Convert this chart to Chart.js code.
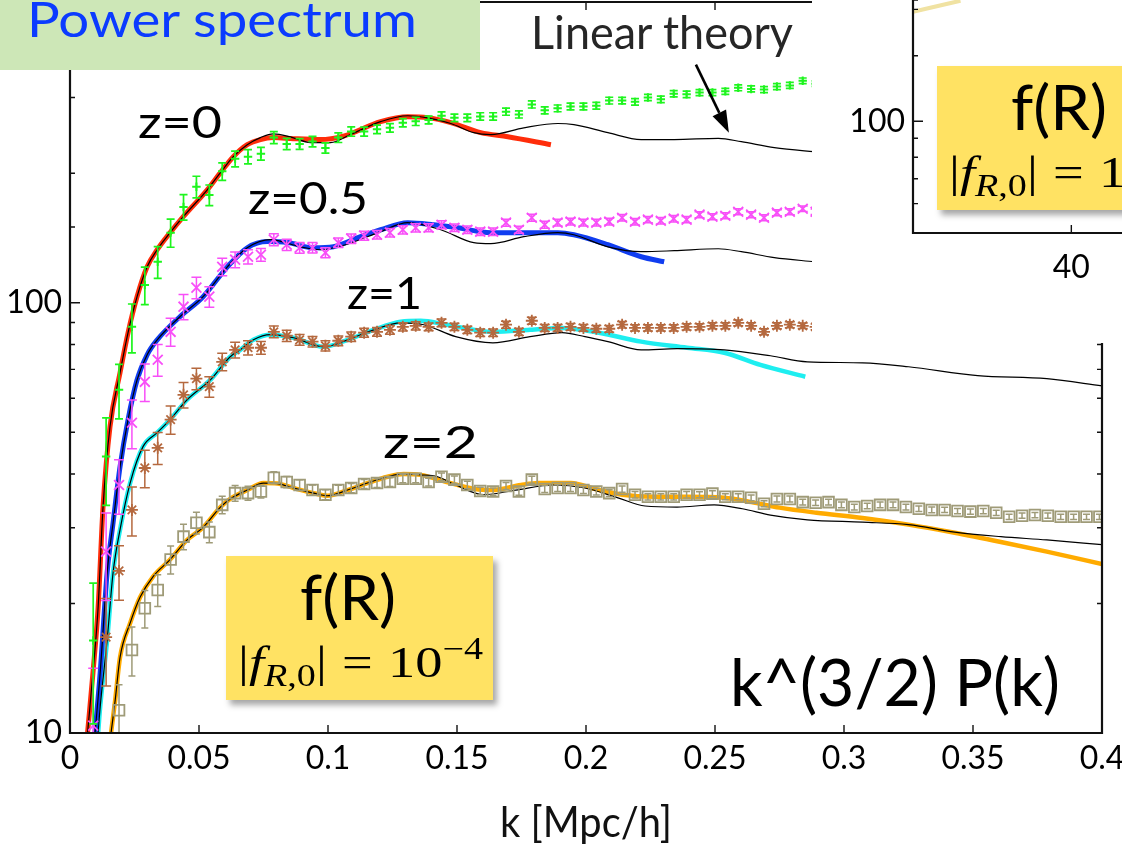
<!DOCTYPE html>
<html>
<head>
<meta charset="utf-8">
<title>Power spectrum</title>
<script src="https://cdn.jsdelivr.net/npm/chart.js@4/dist/chart.umd.min.js"></script>
<style>
  html, body { margin:0; padding:0; background:#fff; overflow:hidden; }
  #stage { position:relative; width:1122px; height:847px; overflow:hidden; font-family:Lato, "Open Sans", sans-serif; }
  #main { position:absolute; left:0; top:0; }
  .txt { position:absolute; white-space:nowrap; line-height:1; transform-origin:0 0; color:#000; }
  #titleBox { position:absolute; left:0; top:0; width:480px; height:70px; background:#cde7b7; }
  .fbox { position:absolute; width:267px; height:144px; background:#ffe263; box-shadow:4px 5px 6px rgba(0,0,0,0.35); }
  .math { font-family:"Liberation Serif", "DejaVu Serif", serif; font-size:44px; }
  .math sub, .math sup { font-size:0.7em; line-height:0; }
  .math sub { vertical-align:-0.3em; }
  .math sup { vertical-align:0.58em; }
  .math .rel { margin:0 0.28em; }
  #inset { position:absolute; left:812px; top:0; width:310px; height:343px; background:#fff; overflow:hidden; }
  #insetChart { position:absolute; left:0; top:0; }
</style>
</head>
<body>
<div id="stage">
  <canvas id="main" width="1122" height="847"></canvas>

  <div id="titleBox"><div class="txt" style="left:27px;top:-4.6px;font-size:48px;color:#0b3bff" data-w="390">Power spectrum</div></div>

  <div class="txt" style="left:138px;top:99px;font-size:44px" data-w="84">z=0</div>
  <div class="txt" style="left:248px;top:175px;font-size:44px" data-w="120">z=0.5</div>
  <div class="txt" style="left:347px;top:270px;font-size:44px" data-w="75">z=1</div>
  <div class="txt" style="left:383px;top:419px;font-size:44px" data-w="95">z=2</div>

  <div class="txt" style="left:531px;top:9px;font-size:46px;color:#262626" data-w="262">Linear theory</div>
  <div class="txt" style="left:730px;top:648px;font-size:66px" data-w="330">k^(3/2) P(k)</div>
  <div class="txt" style="left:500px;top:800px;font-size:42px;color:#111" data-w="172">k [Mpc/h]</div>

  <div class="fbox" style="left:226px;top:556px">
    <div class="txt" style="left:74px;top:9px;font-size:62px" data-w="96">f(R)</div>
    <div class="txt math" style="left:12px;top:85px" data-w="245">|<i>f</i><sub><i>R</i>,0</sub>|<span class="rel">=</span>10<sup>−4</sup></div>
  </div>

  <div id="inset">
    <canvas id="insetChart" width="310" height="343"></canvas>
    <div class="fbox" style="left:125px;top:66px">
      <div class="txt" style="left:74px;top:9px;font-size:62px" data-w="96">f(R)</div>
      <div class="txt math" style="left:12px;top:85px" data-w="245">|<i>f</i><sub><i>R</i>,0</sub>|<span class="rel">=</span>10<sup>−4</sup></div>
    </div>
  </div>
</div>

<script>
// ---- axis ticks -------------------------------------------------------
const xTickLabels = ['0', '0.05', '0.1', '0.15', '0.2', '0.25', '0.3', '0.35', '0.4'];
const yLabelValues = [10, 100];

// ---- k bins of the N-body measurements [h/Mpc] -----------------------
const kBins = [
  0.009, 0.014, 0.019, 0.024, 0.029, 0.034, 0.039, 0.044, 0.049, 0.054,
  0.059, 0.064, 0.069, 0.074, 0.079, 0.084, 0.089, 0.094, 0.099, 0.104,
  0.109, 0.114, 0.119, 0.124, 0.129, 0.134, 0.139, 0.144, 0.149, 0.154,
  0.159, 0.164, 0.169, 0.174, 0.179, 0.184, 0.189, 0.194, 0.199, 0.204,
  0.209, 0.214, 0.219, 0.224, 0.229, 0.234, 0.239, 0.244, 0.249, 0.254,
  0.259, 0.264, 0.269, 0.274, 0.279, 0.284, 0.289, 0.294, 0.299, 0.304,
  0.309, 0.314, 0.319, 0.324, 0.329, 0.334, 0.339, 0.344, 0.349, 0.354,
  0.359, 0.364, 0.369, 0.374, 0.379, 0.384, 0.389, 0.394, 0.399
];

// fractional error of each bin (same mode count at every redshift)
const relErr = [
  0.36, 0.23, 0.145, 0.13, 0.10, 0.085, 0.075, 0.068, 0.058, 0.055,
  0.047, 0.042, 0.038, 0.034, 0.032, 0.030, 0.029, 0.028, 0.027, 0.026,
  0.025, 0.024, 0.023, 0.023, 0.022, 0.022, 0.021, 0.021, 0.020, 0.020,
  0.020, 0.020, 0.019, 0.019, 0.019, 0.019, 0.018, 0.018, 0.018, 0.018,
  0.018, 0.017, 0.017, 0.017, 0.017, 0.017, 0.017, 0.016, 0.016, 0.016,
  0.016, 0.016, 0.016, 0.016, 0.016, 0.015, 0.015, 0.015, 0.015, 0.015,
  0.015, 0.015, 0.015, 0.015, 0.015, 0.015, 0.014, 0.014, 0.014, 0.014,
  0.014, 0.014, 0.014, 0.014, 0.014, 0.014, 0.014, 0.014, 0.014
];

// N-body k^(3/2) P(k), one value per bin
const nbodyZ0 = [
  16.4, 43.9, 62.8, 87.9, 110, 124.5, 145.5, 167, 186, 178,
  202, 216, 218.5, 222, 242, 234, 234, 237, 229, 242,
  250, 250, 253, 255, 262, 264, 266, 272, 269, 269,
  271, 271, 278, 274, 289, 280, 283, 286, 286, 287,
  295, 295, 293, 300, 297, 306, 305, 308, 308, 310,
  316, 314, 313, 318, 320, 328, 323
];
const nbodyZ05 = [
  10.4, 26.4, 37.7, 52.6, 65.5, 73.7, 85.6, 97.9, 108.4, 103.3,
  121.2, 125.9, 127.9, 129.3, 140.2, 136.4, 134.2, 134.2, 130.7, 137.9,
  140.9, 143.2, 143.9, 145.5, 147.8, 149.4, 149.4, 151.8, 149.4, 147.8,
  146.3, 146.3, 153.5, 147.8, 157.6, 151.8, 153.5, 154.3, 153.5, 153.5,
  154.3, 157.6, 154.3, 156.0, 155.1, 156.8, 156.0, 160.2, 158.5, 159.3,
  162.7, 160.2, 157.6, 161.9, 162.7, 165.4, 162.7
];
const nbodyZ1 = [
  null, 16.7, 23.8, 33.0, 41.3, 46.0, 53.5, 61.1, 66.6, 63.8,
  72.9, 77.7, 78.6, 78.6, 85.6, 83.8, 82.0, 81.2, 79.4, 81.6,
  83.4, 85.2, 85.6, 86.5, 87.9, 88.4, 87.9, 89.8, 87.9, 86.5,
  85.2, 85.2, 88.9, 85.6, 90.8, 87.4, 87.4, 87.9, 87.4, 87.0,
  87.0, 88.9, 87.4, 87.4, 87.4, 87.4, 87.9, 87.9, 88.4, 88.4,
  89.8, 88.4, 85.6, 88.4, 88.9, 88.4, 87.9
];
const nbodyZ2 = [
  null, null, 11.3, 15.6, 19.5, 21.5, 25.3, 28.6, 30.8, 29.3,
  33.9, 36.1, 36.1, 36.4, 39.2, 38.3, 37.7, 36.7, 35.8, 36.7,
  37.1, 37.9, 38.1, 38.3, 39.0, 39.0, 38.3, 39.4, 38.8, 37.7,
  36.5, 36.4, 37.5, 36.4, 38.8, 36.9, 37.1, 37.1, 36.7, 36.4,
  36.1, 36.9, 35.8, 35.4, 35.4, 35.4, 35.8, 35.8, 36.0, 35.4,
  35.4, 35.2, 34.1, 35.0, 35.0, 34.4, 34.3, 34.4, 33.9, 33.5,
  33.7, 33.9, 33.9, 33.5, 33.2, 33.0, 33.0, 32.8, 32.7, 32.8,
  32.5, 31.8, 32.0, 32.1, 32.0, 31.8, 31.8, 31.8, 31.8
];

// linear theory curves
const kLinZ0 = [0.0068,0.0089,0.0109,0.0128,0.0155,0.0194,0.0225,0.026,0.0299,0.0338,0.0388,0.0439,0.0532,0.0583,0.0633,0.0687,0.0738,0.0788,0.0854,0.0932,0.101,0.1087,0.1204,0.1309,0.1386,0.1476,0.1565,0.1631,0.1759,0.1891,0.1953,0.2085,0.2214,0.2342,0.2513,0.2602,0.273,0.2882,0.292];
const linZ0  = [10,13.8,19.6,33.5,51.5,68.8,85.2,103.3,121.2,132.8,145.5,158.5,183,200.6,218.5,233,242,247,243,235.6,235.6,246,263.6,272,269,261,248.5,246,255,261,259.4,248.5,239.5,239.5,241,236.8,229.4,224.5,223.5];

const kLinZ05 = [0.0097,0.0117,0.0144,0.0167,0.0194,0.0225,0.026,0.0299,0.0338,0.0426,0.0516,0.061,0.0687,0.0777,0.0893,0.0971,0.1068,0.1204,0.1309,0.1437,0.1565,0.1631,0.1759,0.1891,0.1953,0.2085,0.2214,0.2342,0.2513,0.2602,0.273,0.2886,0.292];
const linZ05  = [10,13.8,23.6,30.8,41.6,53.5,66.2,75.7,82,92.8,103.3,121.2,134.2,140.2,134.9,132.8,136.4,146.3,153.5,147.8,137.9,137.2,142.4,145.5,143.9,134.9,131.4,132.1,133.5,131.4,127.3,124.5,123.9];

const kLinZ1 = [0.0109,0.0117,0.0144,0.0167,0.0194,0.0233,0.0283,0.0338,0.0388,0.0454,0.0544,0.0621,0.066,0.0711,0.0777,0.0866,0.0983,0.1076,0.1177,0.1282,0.1371,0.1495,0.1639,0.1783,0.1907,0.1996,0.2085,0.2214,0.2353,0.2536,0.2715,0.2858,0.3072,0.325,0.3518,0.3786,0.4];
const linZ1  = [10,11.5,16.45,23.6,29.7,38.1,46.3,49.9,53.5,59.5,66.2,74.9,77.7,82,84.3,82.9,79,82,86.5,89.8,88.9,83.4,80.7,83.4,85.2,83.4,81.2,77.7,78.2,77.7,75.3,72.9,72.5,71,67.7,66.6,64.1];

const kLinZ2 = [0.0159,0.0175,0.0194,0.0233,0.0272,0.0322,0.0388,0.0454,0.0517,0.0583,0.0621,0.0687,0.075,0.0804,0.0866,0.0944,0.0998,0.1076,0.1153,0.1231,0.1293,0.1359,0.1425,0.1495,0.1604,0.1728,0.1872,0.1996,0.2124,0.2229,0.2353,0.2497,0.2606,0.2715,0.2858,0.3072,0.325,0.3429,0.3608,0.3786,0.4];
const linZ2  = [10,11.9,15.0,18.0,20.7,23.1,25.3,28.1,30.1,33.5,35.0,36.7,38.1,38,37.1,36.1,35.6,36.7,38.1,39.4,40,39.8,39.4,37.7,35.8,36.7,37.7,37.1,35.2,33.7,33.5,33.9,33.2,32.1,31.3,30.9,30.5,29.3,28.6,28.1,27.4];

// f(R) model curves
const kModelZ0 = [0.0068,0.0089,0.0109,0.0128,0.0155,0.0194,0.0225,0.026,0.0299,0.0338,0.0388,0.0439,0.0532,0.0583,0.0633,0.0687,0.0738,0.0788,0.0866,0.097,0.106,0.1204,0.1309,0.1386,0.1476,0.1592,0.1697,0.1864];
const modelZ0  = [10,13.8,19.6,33.5,51.5,68.8,85.2,103.3,121.2,132.8,145.5,158.5,183,200.6,218.5,233,239.5,242,240.6,239.5,244,263.6,270.7,269.3,262.2,248.5,243.2,233];

const kModelZ05 = [0.0097,0.0117,0.0144,0.0167,0.0194,0.0225,0.026,0.0299,0.0338,0.0426,0.0516,0.061,0.0687,0.0765,0.0843,0.0944,0.1021,0.1126,0.1204,0.1309,0.141,0.1503,0.1631,0.1759,0.1891,0.1953,0.2085,0.2214,0.2303];
const modelZ05  = [10,13.8,23.6,30.8,41.6,53.5,66.2,75.7,82,92.8,103.3,121.2,134.2,138.7,138,134.2,135,142.4,147.8,153.5,151.8,149.4,145.5,145.5,145.5,143.9,136.4,127.9,124.5];

const kModelZ1 = [0.0109,0.0117,0.0144,0.0167,0.0194,0.0233,0.0283,0.0338,0.0388,0.0454,0.0544,0.0621,0.066,0.0711,0.0777,0.0866,0.0983,0.1076,0.1177,0.1282,0.1359,0.146,0.1639,0.1783,0.1907,0.205,0.2214,0.2392,0.2536,0.2676,0.285];
const modelZ1  = [10,11.5,16.45,23.6,29.7,38.1,46.3,49.9,53.5,59.5,66.2,74.9,77.7,82,84.3,82.9,79,82,86.5,90.3,90.8,88.9,85.6,86.5,87.4,85.2,81.2,78.6,76.5,71.7,67.3];

const kModelZ2 = [0.0159,0.0175,0.0194,0.0233,0.0272,0.0322,0.0388,0.0454,0.0517,0.0583,0.0621,0.0687,0.075,0.0804,0.0866,0.0944,0.0998,0.1076,0.1153,0.1231,0.1293,0.1359,0.146,0.1569,0.1639,0.1748,0.1817,0.1942,0.2035,0.214,0.2264,0.2392,0.2536,0.2641,0.275,0.2893,0.3072,0.325,0.3429,0.3608,0.3786,0.4];
const modelZ2  = [10,11.9,15.0,18.0,20.7,23.1,25.3,28.1,30.1,33.5,35.0,36.7,38.1,38,37.1,36.1,35.6,36.7,38.1,39.4,40,39.8,38.3,36.9,36.7,37.7,38.1,38.1,36.9,35.8,35.4,35.4,35.2,34.4,33.4,32.5,31.6,30.5,29.2,27.8,26.4,24.7];

// zoomed panel
const insetXTicks = [40];
const insetK = [30, 31.5, 33];
const insetCurve = [197, 204, 211];

// ---- helpers ----------------------------------------------------------
const table = (ks, vs) => ks.map((k, i) => ({ x: k, y: vs[i] }));
const binned = vs => kBins
  .map((k, i) => ({ x: k, y: vs[i], e: relErr[i] }))
  .filter(p => p.y !== null && p.y !== undefined);

const curve = (label, ks, vs, color, width, order) => ({
  label, data: table(ks, vs), borderColor: color, borderWidth: width,
  pointRadius: 0, fill: false, cubicInterpolationMode: 'monotone', order
});
const points = (label, vs, color, style, radius, width, cap) => ({
  label, data: binned(vs), showLine: false, pointStyle: style, pointRadius: radius,
  pointBorderColor: color, pointBackgroundColor: 'rgba(0,0,0,0)', pointBorderWidth: width,
  borderColor: color, errCap: cap, errWidth: Math.max(1.3, width - 0.3), order: 0
});

// fixed axis thickness, no extra room reserved for edge labels
const fixSize = (prop, size) => s => {
  s[prop] = size;
  s.paddingTop = 0; s.paddingBottom = 0; s.paddingLeft = 0; s.paddingRight = 0;
};

// vertical error bars with caps, drawn right after each point set
const errorBars = {
  id: 'errorBars',
  afterDatasetDraw(chart, args) {
    const ds = chart.data.datasets[args.index];
    if (!ds.errCap) return;
    const { ctx, chartArea: a, scales: { y } } = chart;
    ctx.save();
    ctx.beginPath();
    ctx.rect(a.left, a.top, a.right - a.left, a.bottom - a.top);
    ctx.clip();
    ctx.strokeStyle = ds.borderColor;
    ctx.lineWidth = ds.errWidth;
    ctx.beginPath();
    args.meta.data.forEach((pt, i) => {
      const d = ds.data[i];
      const y1 = y.getPixelForValue(d.y * (1 + d.e));
      const y2 = y.getPixelForValue(d.y * (1 - d.e));
      ctx.moveTo(pt.x, y1); ctx.lineTo(pt.x, y2);
      ctx.moveTo(pt.x - ds.errCap, y1); ctx.lineTo(pt.x + ds.errCap, y1);
      ctx.moveTo(pt.x - ds.errCap, y2); ctx.lineTo(pt.x + ds.errCap, y2);
    });
    ctx.stroke();
    ctx.restore();
  }
};

// boxed axes with inward tick marks
const axisFrame = {
  id: 'axisFrame',
  afterDraw(chart, args, o) {
    const { ctx, chartArea: a, scales: { x, y } } = chart;
    ctx.save();
    ctx.strokeStyle = '#111';
    ctx.lineWidth = 1.4;
    ctx.beginPath();
    x.ticks.forEach(t => {
      const px = x.getPixelForValue(t.value);
      if (o.bottom) { ctx.moveTo(px, a.bottom); ctx.lineTo(px, a.bottom - o.xTick); }
      if (o.top) { ctx.moveTo(px, a.top); ctx.lineTo(px, a.top + o.xTick); }
    });
    y.ticks.forEach(t => {
      const py = y.getPixelForValue(t.value);
      const len = t.label ? o.majorTick : o.minorTick;
      if (o.left) { ctx.moveTo(a.left, py); ctx.lineTo(a.left + len, py); }
      if (o.right) { ctx.moveTo(a.right, py); ctx.lineTo(a.right - len, py); }
    });
    ctx.stroke();
    ctx.lineWidth = 2.2;
    ctx.beginPath();
    if (o.left) { ctx.moveTo(a.left, a.top); ctx.lineTo(a.left, a.bottom + 1); }
    if (o.bottom) { ctx.moveTo(a.left - 1, a.bottom); ctx.lineTo(a.right + 1, a.bottom); }
    if (o.right) { ctx.moveTo(a.right, a.top); ctx.lineTo(a.right, a.bottom + 1); }
    if (o.top) { ctx.moveTo(a.left - 1, a.top); ctx.lineTo(a.right + 1, a.top); }
    ctx.stroke();

    if (o.arrow) {
      const [k1, v1] = o.arrow.from, [k2, v2] = o.arrow.to;
      const x1 = x.getPixelForValue(k1), y1 = y.getPixelForValue(v1);
      const x2 = x.getPixelForValue(k2), y2 = y.getPixelForValue(v2);
      const ang = Math.atan2(y2 - y1, x2 - x1), head = 22, half = 7.5;
      const bx = x2 - head * Math.cos(ang), by = y2 - head * Math.sin(ang);
      ctx.lineWidth = 2.6;
      ctx.strokeStyle = '#000';
      ctx.beginPath(); ctx.moveTo(x1, y1); ctx.lineTo(bx, by); ctx.stroke();
      ctx.fillStyle = '#000';
      ctx.beginPath();
      ctx.moveTo(x2, y2);
      ctx.lineTo(bx + half * Math.sin(ang), by - half * Math.cos(ang));
      ctx.lineTo(bx - half * Math.sin(ang), by + half * Math.cos(ang));
      ctx.closePath(); ctx.fill();
    }
    ctx.restore();
  }
};

Chart.defaults.font.family = 'Lato';
Chart.defaults.color = '#000';
const tickFont = { family: 'Lato', size: 32 };

// ---- main panel -------------------------------------------------------
new Chart(document.getElementById('main'), {
  type: 'line',
  data: {
    datasets: [
      points('N-body z=0', nbodyZ0, '#1ef51e', 'cross', 4.2, 2, 4),
      points('N-body z=0.5', nbodyZ05, '#f84ff8', 'crossRot', 7, 1.8, 5),
      points('N-body z=1', nbodyZ1, '#b5693f', 'star', 6, 1.8, 5),
      points('N-body z=2', nbodyZ2, '#9f9b78', 'rect', 7.6, 1.8, 3.5),
      curve('linear z=0', kLinZ0, linZ0, '#000', 1.2, 1),
      curve('linear z=0.5', kLinZ05, linZ05, '#000', 1.2, 1),
      curve('linear z=1', kLinZ1, linZ1, '#000', 1.2, 1),
      curve('linear z=2', kLinZ2, linZ2, '#000', 1.2, 1),
      curve('f(R) z=0', kModelZ0, modelZ0, '#ff2d0a', 5, 2),
      curve('f(R) z=0.5', kModelZ05, modelZ05, '#103df0', 5, 2),
      curve('f(R) z=1', kModelZ1, modelZ1, '#1eeef0', 4.5, 2),
      curve('f(R) z=2', kModelZ2, modelZ2, '#ffab00', 4.5, 2)
    ]
  },
  options: {
    responsive: false,
    animation: false,
    devicePixelRatio: 1,
    layout: { autoPadding: false, padding: { left: 0, top: 2, right: 20, bottom: 0 } },
    plugins: {
      legend: { display: false },
      tooltip: { enabled: false },
      axisFrame: {
        left: true, right: true, top: true, bottom: true,
        xTick: 8, majorTick: 10, minorTick: 5,
        arrow: { from: [0.2426, 357.7], to: [0.2554, 248.5] }
      }
    },
    scales: {
      x: {
        type: 'linear', min: 0, max: 0.4,
        grid: { display: false, drawTicks: false },
        border: { display: false },
        ticks: {
          stepSize: 0.05, autoSkip: false, maxRotation: 0, padding: 6,
          font: tickFont, color: '#000',
          callback: (v, i) => xTickLabels[i] ?? ''
        },
        afterFit: fixSize('height', 114)
      },
      y: {
        type: 'logarithmic', min: 10, max: 500,
        grid: { display: false, drawTicks: false },
        border: { display: false },
        ticks: {
          autoSkip: false, padding: 8, font: tickFont, color: '#000',
          callback: v => yLabelValues.includes(v) ? String(v) : ''
        },
        afterFit: fixSize('width', 70)
      }
    }
  },
  plugins: [errorBars, axisFrame]
});

// ---- zoomed panel in the corner ----------------------------------------
new Chart(document.getElementById('insetChart'), {
  type: 'line',
  data: {
    datasets: [{
      label: 'f(R) zoom', data: table(insetK, insetCurve), borderColor: '#f0e2a2',
      borderWidth: 4, pointRadius: 0, tension: 0.3, fill: false
    }]
  },
  options: {
    responsive: false,
    animation: false,
    devicePixelRatio: 1,
    layout: { autoPadding: false, padding: 0 },
    plugins: {
      legend: { display: false },
      tooltip: { enabled: false },
      axisFrame: { left: true, bottom: true, xTick: 8, majorTick: 10, minorTick: 5 }
    },
    scales: {
      x: {
        type: 'linear', min: 30, max: 43.2,
        afterBuildTicks: s => { s.ticks = insetXTicks.map(v => ({ value: v })); },
        grid: { display: false, drawTicks: false },
        border: { display: false },
        ticks: { autoSkip: false, maxRotation: 0, padding: 15, font: tickFont, color: '#000', callback: v => String(v) },
        afterFit: fixSize('height', 110)
      },
      y: {
        type: 'logarithmic', min: 50, max: 212,
        grid: { display: false, drawTicks: false },
        border: { display: false },
        ticks: { autoSkip: false, padding: 8, font: tickFont, color: '#000', callback: v => v === 100 ? '100' : '' },
        afterFit: fixSize('width', 101)
      }
    }
  },
  plugins: [axisFrame]
});

// condense / stretch each caption to its set width
document.querySelectorAll('[data-w]').forEach(el => {
  const w = el.getBoundingClientRect().width;
  if (w > 0) el.style.transform = 'scaleX(' + (parseFloat(el.dataset.w) / w) + ')';
});
</script>
</body>
</html>
